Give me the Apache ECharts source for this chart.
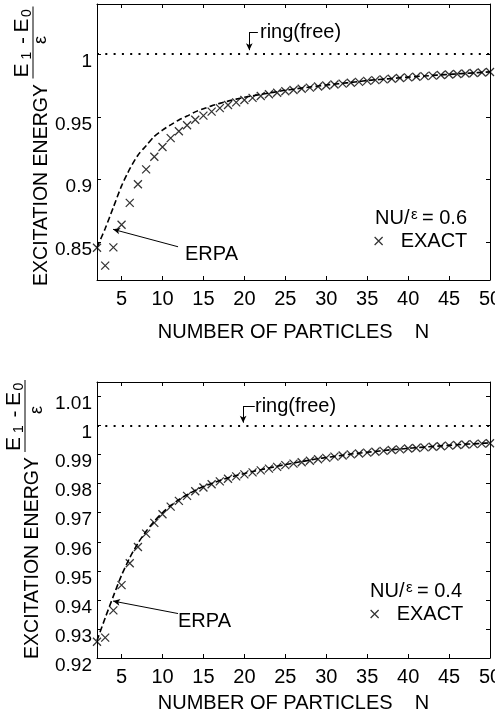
<!DOCTYPE html>
<html>
<head>
<meta charset="utf-8">
<script src="https://cdn.jsdelivr.net/npm/echarts@6/dist/echarts.min.js"></script>
<style>
  html, body { margin: 0; padding: 0; background: #fff; }
  #chart { width: 495px; height: 721px; }
</style>
</head>
<body>
<div id="chart"></div>
<script>
// particle numbers
const N = [2, 3, 4, 5, 6, 7, 8, 9, 10, 11, 12, 13, 14, 15, 16, 17, 18, 19, 20, 21, 22, 23, 24, 25, 26,
  27, 28, 29, 30, 31, 32, 33, 34, 35, 36, 37, 38, 39, 40, 41, 42, 43, 44, 45, 46, 47, 48, 49, 50];

// NU/eps = 0.6
const exactTop = [0.8457, 0.8315, 0.846, 0.864, 0.8815, 0.8963, 0.9082, 0.9182, 0.926, 0.9331, 0.9386,
  0.9434, 0.9477, 0.951, 0.9542, 0.957, 0.9595, 0.9616, 0.9635, 0.9652, 0.9667, 0.9681, 0.9693, 0.9704,
  0.9714, 0.9724, 0.9733, 0.9742, 0.975, 0.9758, 0.9765, 0.9772, 0.9779, 0.9787, 0.9793, 0.9799, 0.9804,
  0.981, 0.9815, 0.982, 0.9825, 0.9829, 0.9834, 0.9838, 0.9842, 0.9846, 0.985, 0.9854, 0.9858];
const erpaTop = [0.846, 0.861, 0.878, 0.895, 0.9085, 0.9195, 0.927, 0.9345, 0.9395, 0.9437, 0.9476,
  0.9507, 0.954, 0.9565, 0.9588, 0.9608, 0.9626, 0.9642, 0.9656, 0.9668, 0.9679, 0.969, 0.9701, 0.9712,
  0.9721, 0.973, 0.9738, 0.9746, 0.9754, 0.9761, 0.9768, 0.9775, 0.9782, 0.979, 0.9796, 0.9801, 0.9806,
  0.9812, 0.9817, 0.9822, 0.9826, 0.9831, 0.9835, 0.9839, 0.9843, 0.9847, 0.9851, 0.9855, 0.9859];

// NU/eps = 0.4
const exactBottom = [0.9256, 0.927, 0.9364, 0.9451, 0.9526, 0.9582, 0.9628, 0.9665, 0.9695, 0.9721, 0.9741,
  0.9758, 0.9774, 0.9787, 0.9798, 0.9808, 0.9817, 0.9825, 0.9832, 0.9839, 0.9846, 0.9852, 0.9858, 0.9864,
  0.9869, 0.9874, 0.9879, 0.9884, 0.9889, 0.9893, 0.9897, 0.9901, 0.9904, 0.9907, 0.991, 0.9913, 0.9916,
  0.9918, 0.9921, 0.9923, 0.9925, 0.9927, 0.9929, 0.9931, 0.9933, 0.9935, 0.9936, 0.9938, 0.9939];
const erpaBottom = [0.926, 0.9338, 0.9413, 0.9485, 0.9545, 0.9595, 0.9636, 0.9671, 0.97, 0.9725, 0.9745,
  0.9762, 0.9777, 0.979, 0.9801, 0.9811, 0.982, 0.9828, 0.9835, 0.9842, 0.9848, 0.9854, 0.986, 0.9866,
  0.9871, 0.9876, 0.9881, 0.9886, 0.989, 0.9894, 0.9898, 0.9902, 0.9905, 0.9908, 0.9911, 0.9914, 0.9917,
  0.9919, 0.9922, 0.9924, 0.9926, 0.9928, 0.993, 0.9932, 0.9934, 0.9936, 0.9937, 0.9939, 0.994];

const xTicks = [5, 10, 15, 20, 25, 30, 35, 40, 45, 50];
const yTicksTop = [0.85, 0.9, 0.95, 1];
const yTicksBottom = [0.92, 0.93, 0.94, 0.95, 0.96, 0.97, 0.98, 0.99, 1, 1.01];

const FONT = "'Liberation Sans', Arial, Helvetica, sans-serif";
const CROSS = "path://M0,0L10,10M10,0L0,10";

const pairs = (ys) => N.map((n, i) => [n, ys[i]]);

function xAxes(gridIndex, nameGap) {
  return [
    {
      gridIndex, type: "value", min: 2, max: 50, position: "bottom",
      name: "NUMBER OF PARTICLES    N", nameLocation: "middle", nameGap,
      nameTextStyle: { fontSize: 20, color: "#000", fontFamily: FONT },
      axisLine: { onZero: false, lineStyle: { color: "#000", width: 1 } },
      axisTick: { inside: true, length: 4, customValues: xTicks, lineStyle: { color: "#000" } },
      axisLabel: { customValues: xTicks, fontSize: 20, color: "#000", margin: 9, fontFamily: FONT },
      splitLine: { show: false },
    },
    {
      gridIndex, type: "value", min: 2, max: 50, position: "top",
      axisLine: { onZero: false, lineStyle: { color: "#000", width: 1 } },
      axisTick: { inside: true, length: 4, customValues: xTicks, lineStyle: { color: "#000" } },
      axisLabel: { show: false },
      splitLine: { show: false },
    },
  ];
}

function yAxes(gridIndex, min, max, ticks) {
  return [
    {
      gridIndex, type: "value", min, max, position: "left",
      axisLine: { onZero: false, lineStyle: { color: "#000", width: 1 } },
      axisTick: { inside: true, length: 4, customValues: ticks, lineStyle: { color: "#000" } },
      axisLabel: {
        customValues: ticks, fontSize: 19, color: "#000", margin: 5, fontFamily: FONT,
        verticalAlign: "top", lineHeight: 15,
      },
      splitLine: { show: false },
    },
    {
      gridIndex, type: "value", min, max, position: "right",
      axisLine: { onZero: false, lineStyle: { color: "#000", width: 1 } },
      axisTick: { inside: true, length: 4, customValues: ticks, lineStyle: { color: "#000" } },
      axisLabel: { show: false },
      splitLine: { show: false },
    },
  ];
}

const thin = { color: "#000", width: 1, type: "solid" };

function markLines(erpaFrom, erpaTo, ring) {
  return {
    silent: true,
    symbol: ["none", "none"],
    label: { show: false },
    data: [
      { yAxis: 1, lineStyle: { color: "#000", width: 1.8, type: [2, 6.3], cap: "butt" } },
      [{ coord: erpaFrom, lineStyle: thin }, { coord: erpaTo, symbol: "arrow", symbolSize: [5, 7] }],
      [{ coord: ring.from, lineStyle: thin }, { coord: ring.corner }],
      [{ coord: ring.corner, lineStyle: thin }, { coord: ring.to, symbol: "arrow", symbolSize: [5, 7] }],
    ],
  };
}

function exactSeries(i, ys) {
  return {
    name: "EXACT", type: "scatter", xAxisIndex: 2 * i, yAxisIndex: 2 * i,
    data: pairs(ys), symbol: CROSS, symbolSize: 8, silent: true,
    itemStyle: { color: "transparent", borderColor: "#000", borderWidth: 1.25 },
  };
}

function erpaSeries(i, ys, ml) {
  return {
    name: "ERPA", type: "line", xAxisIndex: 2 * i, yAxisIndex: 2 * i,
    data: pairs(ys), showSymbol: false, smooth: 0.25, silent: true,
    lineStyle: { color: "#000", width: 1.6, type: [6, 3] },
    markLine: ml,
  };
}

function txt(x, y, text, size, align, extra) {
  return Object.assign({
    type: "text", x, y,
    style: { text, fontSize: size, fontFamily: FONT, fill: "#000", align: align || "left", verticalAlign: "middle" },
  }, extra || {});
}

// (E1 - E0) / eps, rotated
function fraction(cx, cy, epsX, epsY) {
  return {
    type: "group", x: cx, y: cy, rotation: Math.PI / 2,
    children: [
      { type: "line", shape: { x1: -36, y1: 0, x2: 36, y2: 0 }, style: { stroke: "#000", lineWidth: 1 } },
      txt(-35, -10.5, "E", 21),
      txt(-17, -6, "1", 14),
      txt(2, -10, "-", 21, "center"),
      txt(10, -10.5, "E", 21),
      txt(25.5, -6, "0", 14),
      txt(epsX, epsY, "ε", 18, "center"),
    ],
  };
}

function nuLabel(x, y, val) {
  return {
    type: "group", x, y,
    children: [
      txt(0, 0, "NU/", 20),
      txt(36, -3, "ε", 15),
      txt(47, 0, "= " + val, 20),
    ],
  };
}

const legendItem = [{ name: "EXACT", icon: CROSS, itemStyle: { color: "transparent", borderColor: "#000", borderWidth: 1.25 } }];

const chart = echarts.init(document.getElementById("chart"), null, { renderer: "canvas" });

const option = {
  animation: false,
  backgroundColor: "#fff",
  textStyle: { fontFamily: FONT, color: "#000" },
  grid: [
    { left: 97, right: 5, top: 4, height: 276, outerBoundsMode: "none" },
    { left: 97, right: 5, top: 382, height: 276, outerBoundsMode: "none" },
  ],
  xAxis: [...xAxes(0, 42), ...xAxes(1, 35)],
  yAxis: [...yAxes(0, 0.82, 1.04, yTicksTop), ...yAxes(1, 0.92, 1.015, yTicksBottom)],
  legend: [
    {
      data: legendItem, left: 374, top: 231, itemWidth: 8, itemHeight: 8, padding: 0, selectedMode: false,
      textStyle: { fontSize: 20, color: "#000", fontFamily: FONT, padding: [0, 0, 0, 13] },
    },
    {
      data: legendItem, left: 370, top: 604, itemWidth: 8, itemHeight: 8, padding: 0, selectedMode: false,
      textStyle: { fontSize: 20, color: "#000", fontFamily: FONT, padding: [0, 0, 0, 13] },
    },
  ],
  series: [
    exactSeries(0, exactTop),
    erpaSeries(0, erpaTop, markLines([11.9, 0.8465], [3.96, 0.8604],
      { from: [21.65, 1.0176], corner: [20.6, 1.0176], to: [20.6, 1.0032] })),
    exactSeries(1, exactBottom),
    erpaSeries(1, erpaBottom, markLines([11.9, 0.9353], [3.96, 0.9396],
      { from: [21.27, 1.0067], corner: [19.85, 1.0067], to: [19.85, 1.001] })),
  ],
  graphic: [
    fraction(33, 42.5, 2.5, 8),
    txt(41.7, 185, "EXCITATION ENERGY", 19.5, "center", { rotation: Math.PI / 2 }),
    fraction(25, 416, 6, 12),
    txt(32.5, 558, "EXCITATION ENERGY", 19.5, "center", { rotation: Math.PI / 2 }),
    txt(260, 32, "ring(free)", 20),
    txt(255, 406, "ring(free)", 20),
    txt(185, 254, "ERPA", 20),
    txt(178, 621, "ERPA", 20),
    nuLabel(375, 218, "0.6"),
    nuLabel(370, 591, "0.4"),
  ],
};

chart.setOption(option);
</script>
</body>
</html>
